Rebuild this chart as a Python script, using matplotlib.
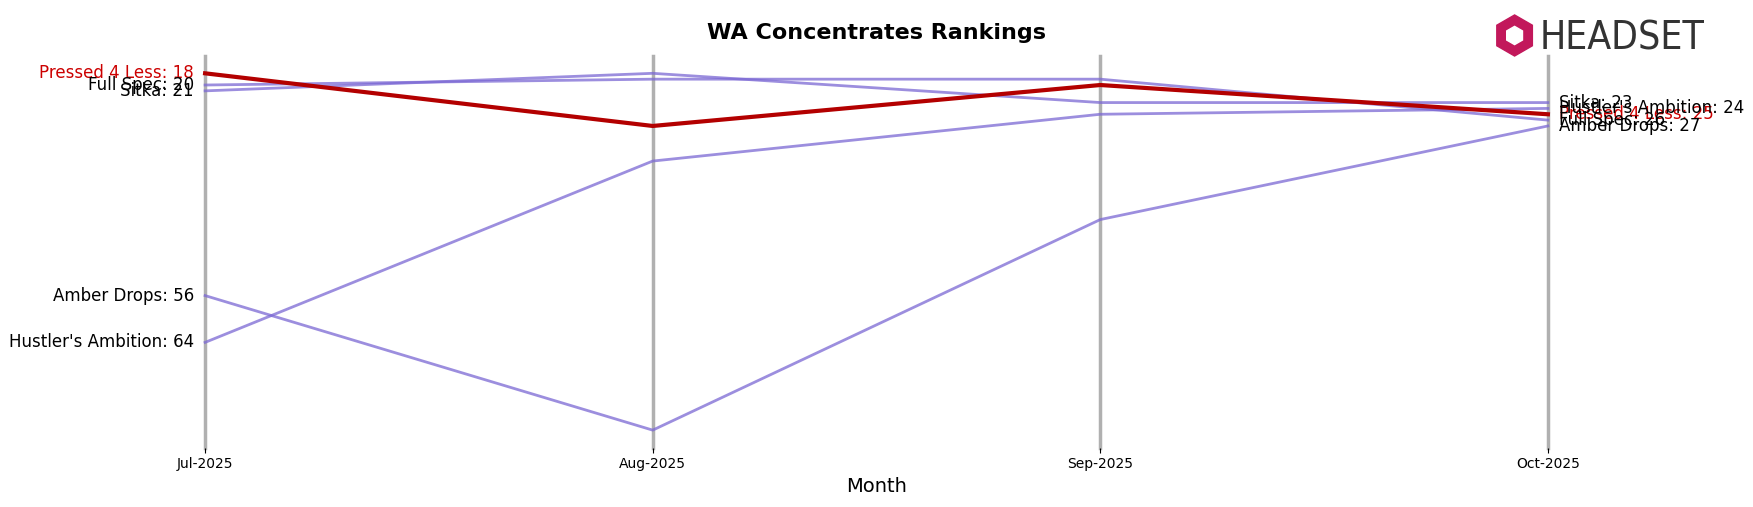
import matplotlib
matplotlib.use("Agg")
import matplotlib.pyplot as plt
from matplotlib.patches import RegularPolygon

months = ["Jul-2025", "Aug-2025", "Sep-2025", "Oct-2025"]
brands = ["Pressed 4 Less", "Full Spec", "Sitka", "Amber Drops", "Hustler's Ambition"]
ranks = {
    "Pressed 4 Less": [18, 27, 20, 25],
    "Full Spec": [20, 19, 19, 26],
    "Sitka": [21, 18, 23, 23],
    "Amber Drops": [56, 79, 43, 27],
    "Hustler's Ambition": [64, 33, 25, 24],
}
highlight = "Pressed 4 Less"

fig = plt.figure(figsize=(17.53, 5.07), dpi=100)
ax = fig.add_axes([0.117, 0.117, 0.766, 0.773])
x = list(range(len(months)))
for xi in x:
    ax.axvline(xi, color="#b0b0b0", lw=2.5, zorder=0, clip_on=False)
for b in brands:
    r = ranks[b]
    if b == highlight:
        ax.plot(x, r, color="#b30000", lw=3, zorder=3, clip_on=False)
    else:
        ax.plot(x, r, color="#7b68d4", lw=2, alpha=0.75, zorder=2, clip_on=False)
    c = "#cc0000" if b == highlight else "black"
    ax.text(-0.025, r[0], f"{b}: {r[0]}", ha="right", va="center", fontsize=12, color=c)
    ax.text(3.025, r[-1], f"{b}: {r[-1]}", ha="left", va="center", fontsize=12, color=c)
ax.set_xlim(0, 3)
ax.set_ylim(82, 15)
ax.set_yticks([])
ax.set_xticks(x)
ax.set_xticklabels(months, fontsize=10)
for s in ax.spines.values():
    s.set_visible(False)
ax.set_xlabel("Month", fontsize=14)
fig.suptitle("WA Concentrates Rankings", fontsize=16, fontweight="bold", y=0.955)

# logo
fig.text(0.878, 0.925, "HEADSET", fontsize=28, color="#333333", va="center", ha="left",
         family="DejaVu Sans", fontstretch="condensed")
lax = fig.add_axes([0.850, 0.885, 0.028, 0.09])
lax.add_patch(RegularPolygon((0.5, 0.5), 6, radius=0.45, color="#c2185b"))
lax.add_patch(RegularPolygon((0.5, 0.5), 6, radius=0.2, color="white"))
lax.set_xlim(0, 1); lax.set_ylim(0, 1); lax.set_aspect("equal"); lax.axis("off")

fig.savefig("out.png", dpi=100)
